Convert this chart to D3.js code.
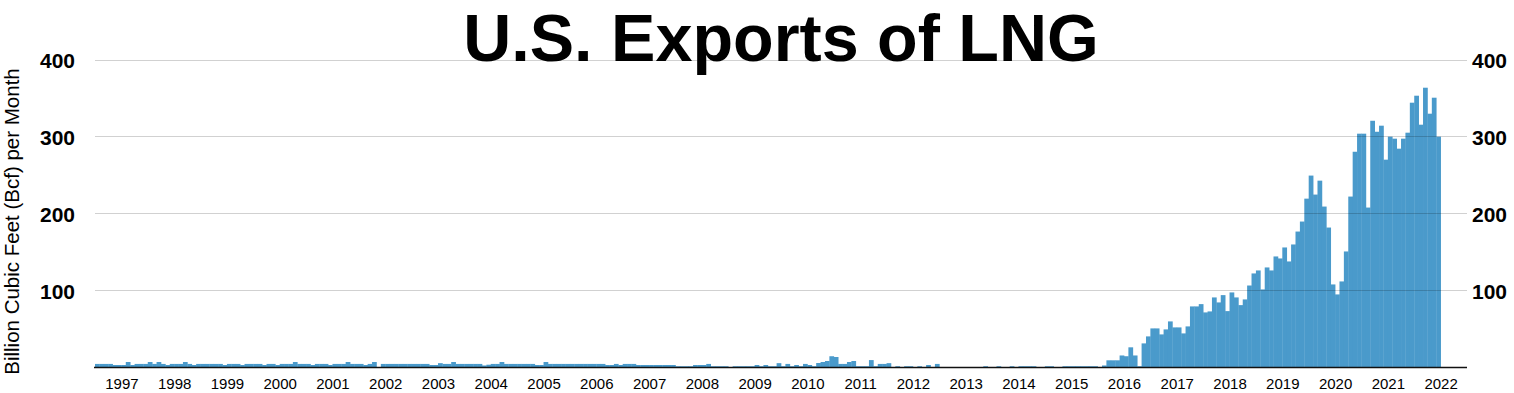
<!DOCTYPE html>
<html>
<head>
<meta charset="utf-8">
<script src="https://cdn.jsdelivr.net/npm/d3@7"></script>
<style>
  html, body { margin: 0; padding: 0; background: #fff; }
  svg { display: block; font-family: "Liberation Sans", Arial, Helvetica, sans-serif; }
</style>
</head>
<body>
<svg id="chart" width="1514" height="393"></svg>
<script>
// ---- Data (Bcf per month, monthly from Jan 1997) ----
const firstYear = 1997;
const lastYear = 2022;
const yearLabels = ["1997","1998","1999","2000","2001","2002","2003","2004","2005","2006","2007","2008","2009","2010","2011","2012","2013","2014","2015","2016","2017","2018","2019","2020","2021","2022"];
const yTickValues = [100, 200, 300, 400];

// 1997 - 2001
const exports1997to2001 = [
  4,4,4,4,2.6,2.6,2.6,6.5,2.6,4,4,4,
  6.5,4,6.5,4,2.6,4,4,4,6.5,4,2.6,4,
  4,4,4,4,4,2.6,4,4,4,2.6,4,4,
  4,4,2.6,4,4,2.6,4,4,4,6.5,4,4,
  4,2.6,4,4,4,2.6,4,4,4,6.5,4,4
];
// 2002 - 2006
const exports2002to2006 = [
  4,2.6,4,6.5,0,4,4,4,4,4,4,4,
  4,4,4,4,2.6,2.6,5,4,4,6.5,4,4,
  4,4,4,4,2,3,4,4,6.5,4,4,4,
  4,4,4,4,2.6,2.6,6.5,4,4,4,4,4,
  4,4,4,4,4,4,4,4,2.6,2.6,4,2.6
];
// 2007 - 2011
const exports2007to2011 = [
  4,4,4,2.6,2.6,2.6,2.6,2.6,2.6,2.6,2.6,2.6,
  1,1,1,1,2.6,2.6,2.6,4,1,1,1,1,
  0,1,1,1,1,1,2.6,1,2.6,1,1,5,
  1,4,1,2.6,1,4,2.6,1,5.2,6.5,7.8,14,
  13,4,4,6.5,7.8,1,1,1,9,1,4,4
];
// 2012 - 2016
const exports2012to2016 = [
  5,0,1,0,1,1,0,1,0,2.6,0,4,
  0,0,0,0,0,0,0,0,0,0,1,0,
  0,1,0,0,1,0,1,1,1,1,0,0,
  1,1,0,0,1,1,1,1,1,1,1,1,
  0,2,8.7,8.7,8.7,15,14,25.6,15,1,30.7,39.8
];
// 2017 - 2019
const exports2017to2019 = [
  50.2,50.2,42.4,48.9,59.3,51.5,51.5,43.7,52.8,78.8,78.8,81.8,
  71,72.3,90.5,84,93.5,72.7,97,90.5,80.5,87.9,106,121.7,
  125.6,100.9,129.5,125.6,143.8,141.2,155.5,137.3,159.4,176.2,189.2,219
];
// 2020 - Jun 2022
const exports2020to2022 = [
  249,224.3,242.4,208.7,181.4,107.4,94.4,111.3,150.3,221.7,280,303.5,
  303.5,207.4,320.3,306,313.9,269.7,299.6,297,284,297,304.8,343.8,
  352.9,315.2,363.3,329.5,350.3,299.6
];

const monthly = [].concat(exports1997to2001, exports2002to2006, exports2007to2011,
                          exports2012to2016, exports2017to2019, exports2020to2022);

// ---- Layout ----
const W = 1514, H = 393;
const plot = { left: 95, right: 1467, top: 59.5, bottom: 367 };
const barColor = "#4a9acb";

const svg = d3.select("#chart");

const totalMonths = (lastYear - firstYear + 1) * 12;
const x = d3.scaleLinear().domain([0, totalMonths]).range([plot.left, plot.right]);
const y = d3.scaleLinear().domain([0, 400]).range([plot.bottom, plot.top]);

// Bars
svg.append("g")
  .selectAll("rect")
  .data(monthly)
  .join("rect")
  .attr("x", (d, i) => x(i))
  .attr("width", (d, i) => x(i + 1) - x(i) + 0.35)
  .attr("y", d => y(d))
  .attr("height", d => y(0) - y(d))
  .attr("fill", barColor);

// Gridlines (drawn over bars, translucent)
svg.append("g")
  .selectAll("line")
  .data(yTickValues)
  .join("line")
  .attr("x1", plot.left)
  .attr("x2", plot.right)
  .attr("y1", d => Math.round(y(d)) + 0.5)
  .attr("y2", d => Math.round(y(d)) + 0.5)
  .attr("stroke", "rgba(0,0,0,0.18)")
  .attr("stroke-width", 1);

// Left and right Y axes (labels only)
const yAxisLeft = d3.axisLeft(y).tickValues(yTickValues).tickSize(0).tickPadding(20);
const gl = svg.append("g").attr("transform", `translate(${plot.left},0)`).call(yAxisLeft);
gl.select(".domain").remove();
gl.selectAll("text")
  .attr("font-family", "'Liberation Sans', Arial, sans-serif")
  .attr("font-size", 21).attr("font-weight", "bold").attr("fill", "#000")
  .attr("dy", "0.38em");

const yAxisRight = d3.axisRight(y).tickValues(yTickValues).tickSize(0).tickPadding(5);
const gr = svg.append("g").attr("transform", `translate(${plot.right},0)`).call(yAxisRight);
gr.select(".domain").remove();
gr.selectAll("text")
  .attr("font-family", "'Liberation Sans', Arial, sans-serif")
  .attr("font-size", 21).attr("font-weight", "bold").attr("fill", "#000")
  .attr("dy", "0.38em");

// X axis: year labels at mid-year
const yearTickPositions = yearLabels.map((lbl, i) => i * 12 + 6);
const xAxis = d3.axisBottom(x)
  .tickValues(yearTickPositions)
  .tickFormat((d, i) => yearLabels[i])
  .tickSize(0)
  .tickPadding(11);
const gx = svg.append("g").attr("transform", `translate(0,${plot.bottom})`).call(xAxis);
gx.select(".domain").remove();
gx.selectAll("text")
  .attr("font-family", "'Liberation Sans', Arial, sans-serif")
  .attr("font-size", 15).attr("fill", "#000");

// Baseline
svg.append("line")
  .attr("x1", plot.left - 1).attr("x2", plot.right)
  .attr("y1", y(0) + 0.5).attr("y2", y(0) + 0.5)
  .attr("stroke", "#111").attr("stroke-width", 1.6);

// Y-axis title
svg.append("text")
  .attr("transform", `translate(18.5,${(63 + 380) / 2}) rotate(-90)`)
  .attr("text-anchor", "middle")
  .attr("font-size", 20.5)
  .attr("fill", "#000")
  .text("Billion Cubic Feet (Bcf) per Month");

// Title
svg.append("text")
  .attr("x", (plot.left + plot.right) / 2)
  .attr("y", 60.5)
  .attr("text-anchor", "middle")
  .attr("font-size", 66.5)
  .attr("font-weight", "bold")
  .attr("fill", "#000")
  .text("U.S. Exports of LNG");
</script>
</body>
</html>
